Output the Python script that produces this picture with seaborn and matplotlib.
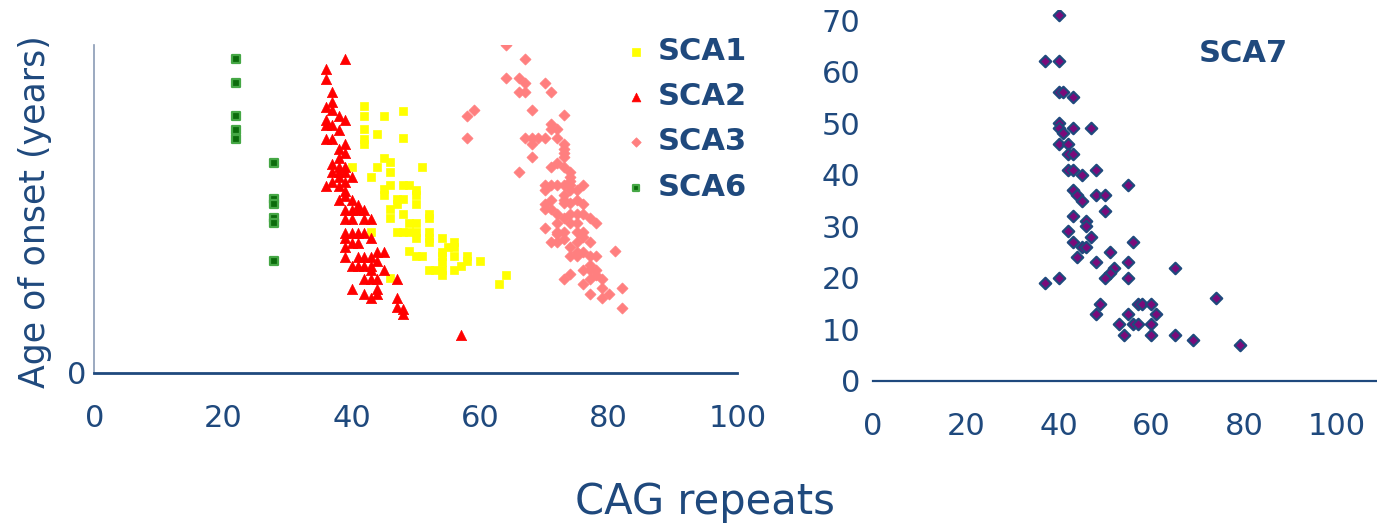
import matplotlib
matplotlib.use("Agg")
import matplotlib.pyplot as plt
import seaborn as sns
import pandas as pd

# Age at onset versus CAG repeat length for spinocerebellar ataxias
sca1_cag = [42, 42, 45, 48, 42, 44, 42, 42, 48, 45, 46, 40, 44, 51, 46, 43, 46, 45, 48, 49,
            50, 45, 47, 48, 50, 47, 50, 46, 48, 52, 46, 52, 49, 50, 43, 47, 48, 49, 50, 52,
            50, 52, 52, 54, 56, 55, 56, 54, 49, 50, 51, 54, 56, 58, 54, 58, 60, 57, 52, 53,
            54, 56, 54, 46, 64, 63]
sca1_onset = [51.8, 49.9, 49.9, 50.8, 47.3, 46.3, 45.3, 44.4, 45.5, 41.7, 41.0, 40.0, 40.0, 40.0,
              39.0, 38.0, 36.4, 35.7, 36.4, 36.4, 35.5, 34.5, 33.7, 33.7, 34.5, 32.7, 32.7, 31.8,
              30.9, 30.9, 30.0, 30.0, 29.0, 29.0, 27.3, 27.3, 27.3, 27.3, 27.3, 27.3, 26.2, 26.2,
              25.4, 26.2, 25.4, 24.5, 24.5, 23.5, 23.6, 22.7, 22.7, 22.7, 22.7, 22.7, 21.6, 21.8,
              21.8, 20.8, 20.0, 20.0, 20.0, 20.0, 19.0, 18.4, 19.0, 17.2]

sca2_cag = [39, 36, 36, 37, 37, 36, 37, 38, 39, 36, 36, 37, 38, 36, 37, 38, 39, 39, 38, 37,
            38, 39, 37, 38, 39, 40, 38, 37, 36, 38, 39, 39, 39, 38, 40, 41, 39, 40, 41, 42,
            39, 40, 42, 43, 39, 40, 41, 42, 43, 39, 40, 41, 39, 39, 41, 42, 43, 44, 45, 40,
            41, 42, 43, 44, 45, 43, 42, 43, 44, 47, 40, 44, 42, 43, 44, 47, 47, 48, 48, 57]
sca2_onset = [60.9, 58.9, 57.1, 54.5, 52.6, 51.6, 50.9, 49.8, 49.0, 49.0, 48.1, 48.1, 47.2, 45.3,
              45.3, 43.5, 44.4, 42.6, 41.6, 40.6, 39.9, 39.9, 38.9, 38.9, 38.9, 38.0, 38.0, 37.1,
              36.3, 36.3, 37.1, 35.3, 34.4, 33.5, 33.5, 32.6, 31.6, 31.6, 31.6, 31.6, 29.8, 29.8,
              29.8, 29.8, 27.2, 27.2, 27.2, 27.2, 26.1, 26.1, 25.3, 25.3, 24.4, 22.5, 22.5, 22.5,
              22.5, 23.5, 23.5, 20.8, 20.8, 20.8, 20.8, 21.7, 20.0, 20.0, 18.2, 18.2, 18.2, 18.2,
              16.3, 16.3, 15.3, 14.5, 15.3, 14.5, 12.8, 12.5, 11.4, 7.4]

sca3_cag = [64, 67, 64, 66, 67, 70, 66, 67, 71, 59, 58, 68, 73, 71, 71, 72, 58, 67, 68, 69,
            70, 68, 72, 73, 73, 73, 73, 68, 72, 71, 66, 73, 74, 74, 72, 73, 74, 71, 70, 74,
            75, 76, 73, 70, 71, 70, 71, 73, 74, 75, 76, 72, 74, 75, 76, 77, 73, 72, 74, 75,
            78, 70, 72, 73, 75, 76, 71, 72, 75, 76, 77, 74, 75, 76, 74, 75, 77, 78, 81, 77,
            76, 77, 78, 73, 74, 77, 78, 79, 76, 79, 82, 77, 79, 80, 82, 70, 74, 73, 72, 73]
sca3_onset = [63.6, 60.9, 57.2, 57.2, 56.3, 56.3, 54.5, 54.5, 54.5, 51.0, 49.9, 51.0, 50.0, 48.2,
              47.3, 47.3, 45.5, 45.5, 45.5, 45.5, 45.5, 44.5, 45.5, 44.5, 43.5, 42.7, 41.8, 41.8,
              40.8, 40.0, 39.0, 40.0, 39.0, 38.0, 36.4, 36.4, 37.3, 36.4, 35.5, 35.5, 35.5, 36.4,
              34.5, 32.8, 33.5, 31.8, 31.8, 32.9, 32.9, 33.5, 32.8, 30.9, 30.9, 30.9, 30.9, 30.0,
              30.0, 29.1, 29.1, 29.1, 29.1, 28.2, 27.3, 27.3, 27.3, 27.3, 25.4, 25.4, 25.4, 26.4,
              25.4, 24.5, 23.5, 23.5, 22.7, 22.7, 22.7, 22.7, 23.6, 20.9, 20.0, 20.0, 20.0, 18.2,
              19.1, 18.2, 19.0, 18.2, 17.2, 16.4, 16.4, 15.4, 14.5, 15.4, 12.7, 36.4, 36.4, 33.5,
              27.0, 26.0]

sca6_cag = [22, 22, 22, 22, 22, 28, 28, 28, 28, 28, 28]
sca6_onset = [60.8, 56.3, 49.9, 47.2, 45.3, 40.8, 33.7, 32.7, 30.0, 29.0, 21.8]

sca7_cag = [40, 37, 40, 40, 41, 43, 40, 40, 41, 43, 47, 40, 42, 42, 43, 42, 43, 45, 48, 55,
            43, 44, 45, 48, 50, 50, 43, 46, 46, 42, 47, 43, 45, 46, 56, 51, 44, 48, 55, 65,
            52, 51, 50, 55, 40, 37, 74, 49, 57, 58, 60, 48, 55, 61, 53, 56, 57, 60, 54, 60,
            65, 69, 79]
sca7_onset = [71, 62, 62, 56, 56, 55, 50, 49, 48, 49, 49, 46, 46, 44, 44, 41, 41, 40, 41, 38,
              37, 36, 35, 36, 36, 33, 32, 31, 30, 29, 28, 27, 26, 26, 27, 25, 24, 23, 23, 22,
              22, 21, 20, 20, 20, 19, 16, 15, 15, 15, 15, 13, 13, 13, 11, 11, 11, 11, 9, 9,
              9, 8, 7]

series_names = ["SCA1", "SCA2", "SCA3", "SCA6"]
x_ticks = [0, 20, 40, 60, 80, 100]
y_ticks_right = [0, 10, 20, 30, 40, 50, 60, 70]

navy = "#1F497D"

sns.set_style("white")
plt.rcParams["font.family"] = ["DejaVu Sans"]

left_df = pd.DataFrame({
    "cag": sca1_cag + sca2_cag + sca3_cag + sca6_cag,
    "onset": sca1_onset + sca2_onset + sca3_onset + sca6_onset,
    "type": (["SCA1"] * len(sca1_cag) + ["SCA2"] * len(sca2_cag)
             + ["SCA3"] * len(sca3_cag) + ["SCA6"] * len(sca6_cag)),
})
right_df = pd.DataFrame({"cag": sca7_cag, "onset": sca7_onset})

styles = {
    "SCA1": dict(marker="s", color="#FFFF00", edgecolor="#FFFF00", s=40, linewidth=0.5),
    "SCA2": dict(marker="^", color="#FF0000", edgecolor="#FF0000", s=55, linewidth=0.5),
    "SCA3": dict(marker="D", color="#FF7F7F", edgecolor="#FF7F7F", s=32, linewidth=0.5),
    "SCA6": dict(marker="s", color="#0B6B0B", edgecolor="#45A745", s=34, linewidth=1.6),
}

W, H = 1377, 528
fig = plt.figure(figsize=(W / 100, H / 100), dpi=100)

ax1 = fig.add_axes([94.4 / W, (H - 373) / H, 643 / W, 328 / H])
for name in series_names:
    sub = left_df[left_df["type"] == name]
    sns.scatterplot(data=sub, x="cag", y="onset", ax=ax1, label=name, **styles[name])

ax1.set_xlim(0, 100)
ax1.set_ylim(0, 63.6)
ax1.set_xticks(x_ticks)
ax1.set_yticks([0])
ax1.set_xlabel("")
ax1.set_ylabel("")
for side in ["top", "right"]:
    ax1.spines[side].set_visible(False)
ax1.spines["bottom"].set_color(navy)
ax1.spines["bottom"].set_linewidth(2)
ax1.spines["left"].set_color("#8A9BB5")
ax1.spines["left"].set_linewidth(1.2)
ax1.tick_params(axis="x", colors="white", direction="inout", length=7, width=1.5,
                labelcolor=navy, labelsize=22, pad=19)
ax1.tick_params(axis="y", length=0, labelcolor=navy, labelsize=22, pad=6)

leg = ax1.legend(loc="upper left", bbox_to_anchor=(624 / W, 1 - 37 / H),
                 bbox_transform=fig.transFigure, frameon=False,
                 prop=dict(weight="bold", size=22), labelcolor=navy,
                 handletextpad=0.3, handlelength=0.8, labelspacing=0.53,
                 borderpad=0, borderaxespad=0, markerscale=0.85)

ax2 = fig.add_axes([873 / W, (H - 381) / H, 504 / W, 371.3 / H])
sns.scatterplot(data=right_df, x="cag", y="onset", ax=ax2, marker="D", s=34,
                color="#7A0A7A", edgecolor=navy, linewidth=1.6, legend=False)
ax2.set_xlim(0, 108.6)
ax2.set_ylim(0, 72)
ax2.set_xticks(x_ticks)
ax2.set_yticks(y_ticks_right)
ax2.set_xlabel("")
ax2.set_ylabel("")
for side in ["top", "right", "left"]:
    ax2.spines[side].set_visible(False)
ax2.spines["bottom"].set_color(navy)
ax2.spines["bottom"].set_linewidth(1.6)
ax2.tick_params(axis="x", colors="white", direction="inout", length=7, width=1.5,
                labelcolor=navy, labelsize=22, pad=19)
ax2.tick_params(axis="y", length=0, labelcolor=navy, labelsize=22, pad=9)
ax2.text(79.7, 63.5, "SCA7", color=navy, fontsize=22, fontweight="bold",
         ha="center", va="center")

fig.text(705 / W, 1 - 502 / H, "CAG repeats", color=navy, fontsize=30,
         ha="center", va="center")
fig.text(35 / W, 1 - 212 / H, "Age of onset (years)", color=navy, fontsize=25,
         rotation=90, ha="center", va="center")

fig.savefig("out.png", dpi=100)
